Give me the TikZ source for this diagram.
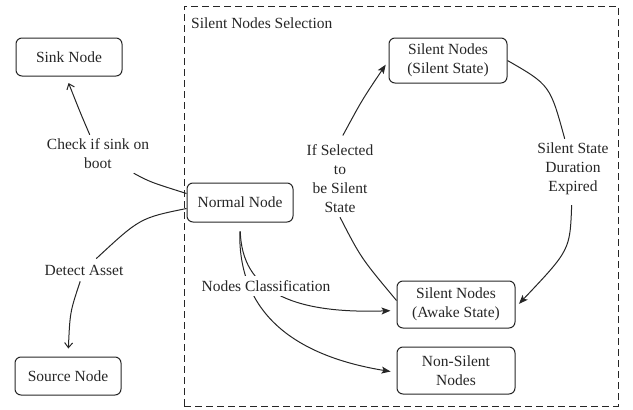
\documentclass[tikz,border=0pt]{standalone}
\usepackage{fontspec}
\setmainfont{Liberation Serif}
\usetikzlibrary{arrows.meta}
\begin{document}
\begin{tikzpicture}[x=1pt,y=-1pt,
  every node/.style={font=\fontsize{15.5}{19}\selectfont, text=black!85, align=center},
  box/.style={draw=black!85, line width=1pt, rounded corners=6pt, inner sep=0pt},
  lbl/.style={inner sep=4pt},
  link/.style={draw=black!85, line width=1pt},
  openarrow/.style={link, -{Straight Barb[length=5pt,width=8pt]}},
  fullarrow/.style={link, -{Stealth[length=9pt,width=7pt,inset=2pt]}},
  zonebox/.style={draw=black!85, line width=1pt, dash pattern=on 7pt off 4pt, inner sep=0pt}
]
\useasboundingbox (0,0) rectangle (633,410);

% selection area
\node[zonebox, minimum width=434pt, minimum height=400pt] (zone) at (401,206) {};
\node[anchor=west, inner sep=0pt] (title) at (191,23) {Silent Nodes Selection};

% nodes
\node[box, minimum width=106pt, minimum height=38pt] (sink) at (69,57) {Sink Node};
\node[box, minimum width=106pt, minimum height=39pt] (normal) at (240,202.5) {Normal Node};
\node[box, minimum width=106pt, minimum height=38pt] (source) at (68,376) {Source Node};
\node[box, minimum width=118pt, minimum height=45pt] (silent) at (448,60.5) {Silent Nodes\\(Silent State)};
\node[box, minimum width=118pt, minimum height=47pt] (awake) at (456,304.5) {Silent Nodes\\(Awake State)};
\node[box, minimum width=118pt, minimum height=47pt] (nonsilent) at (456,370.5) {Non-Silent\\Nodes};

% connector labels
\node[lbl] (chk) at (98,154) {Check if sink on\\boot};
\node[lbl, inner sep=6pt] (det) at (84,270) {Detect Asset};
\node[lbl] (pick) at (340,179) {If Selected\\to\\be Silent\\State};
\node[lbl] (exp) at (573,169) {Silent State\\Duration\\Expired};

% outer connectors
\draw[openarrow, shorten >=7pt] ([yshift=9pt]normal.west) .. controls (150,182) .. (chk)
      .. controls (80,112) .. ([xshift=-3pt]sink.south);
\draw[openarrow, shorten >=8pt] ([yshift=-6pt]normal.west) .. controls (140,218) .. (det)
      .. controls (70,312) .. (source.north);

% classification
\draw[fullarrow, shorten <=9pt, shorten >=6pt] (normal.south)
      .. controls (242,290) and (290,314) .. ([yshift=-6pt]awake.west);
\draw[fullarrow, shorten <=9pt, shorten >=6pt] (normal.south)
      .. controls (238,310) and (290,355) .. ([yshift=-2pt]nonsilent.west);
\node[lbl, fill=white, inner sep=4pt] (cls) at (266,286) {Nodes Classification};

% silent state cycle
\draw[fullarrow, shorten <=6pt, shorten >=5pt] ([yshift=4pt]awake.west) .. controls (361,258) .. (pick.south)
      (pick.north) .. controls (362,100) .. (silent.west);
\draw[fullarrow, shorten <=6pt, shorten >=5pt] (silent.east) .. controls (550,85) .. (exp)
      .. controls (570,250) .. ([yshift=-3pt]awake.east);
\end{tikzpicture}
\end{document}
